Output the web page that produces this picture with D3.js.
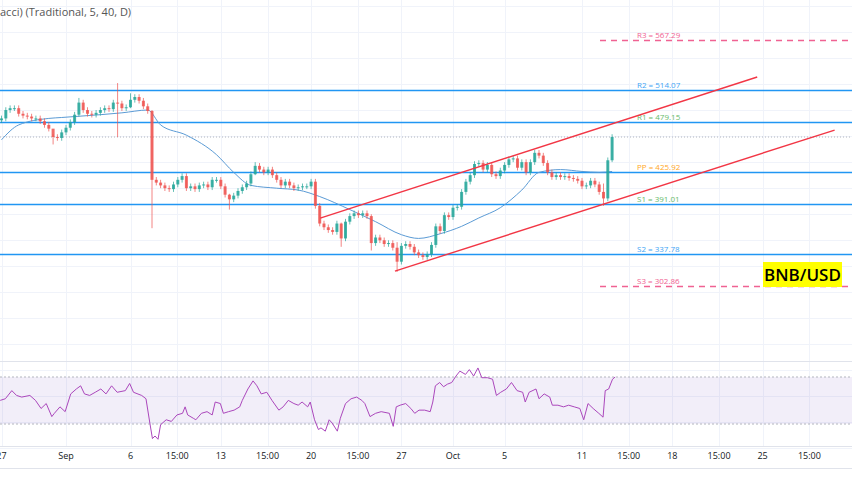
<!DOCTYPE html>
<html>
<head>
<meta charset="utf-8">
<script src="https://cdn.jsdelivr.net/npm/d3@7"></script>
<style>
  body { margin: 0; background: #fff; }
  svg { display: block; font-family: "Open Sans", "DejaVu Sans", sans-serif; }
</style>
</head>
<body>
<div id="chart"></div>
<script>
// global constants
const WIDTH = 852;
const HEIGHT = 485;
const UP = "#26a69a";
const DOWN = "#ef5350";
const START = Date.UTC(2021, 7, 26, 16); // first 8h candle
const STEP = 8 * 3600 * 1000;

// 8h closes, BNB/USD
const closes = [
  481, 483, 492, 494, 494, 488, 486, 485, 483, 483, 480, 476, 472, 463, 462, 468, 473, 479, 487, 500,
  492, 488, 487, 489, 492, 494, 493, 500, 499, 494, 495, 503, 506, 502, 496, 491, 417, 414, 411, 408,
  407, 412, 417, 421, 408, 410, 407, 411, 412, 409, 417, 417, 410, 401, 396, 400, 405, 409, 413, 423,
  432, 428, 425, 428, 422, 417, 411, 415, 411, 408, 409, 410, 410, 415, 389, 370, 366, 363, 361, 370,
  354, 372, 378, 381, 379, 381, 378, 349, 355, 352, 348, 349, 344, 329, 346, 348, 345, 339, 336, 334,
  337, 347, 367, 362, 379, 377, 387, 388, 404, 415, 422, 434, 435, 428, 433, 423, 421, 427, 433, 439,
  440, 430, 436, 425, 436, 446, 443, 435, 425, 420, 422, 420, 421, 419, 418, 416, 410, 411, 416, 412,
  404, 397, 438, 463
];
const firstOpen = 478;
const WICK = 3;
// candle index -> [high, low] where the wick is long
const wickOverrides = {
  13: [466, 455], 19: [505, 485], 28: [521, 463], 31: [510, 494], 36: [492, 365],
  54: [402, 385], 60: [436, 422], 80: [371, 345], 87: [380, 341], 93: [350, 318],
  141: [413, 389], 143: [466, 436]
};

// moving average (candle index, value)
const maIdx = [1, 5, 12, 15, 24, 29, 35, 38, 44, 51, 55, 59, 65, 70, 75, 82, 88, 94, 98, 103, 108, 112, 117, 122, 126, 131, 136, 140, 143];
const maVals = [460, 476, 483, 484, 487, 489, 492, 476, 465, 444, 425, 411, 408, 406, 399, 385, 372, 358, 354, 359, 367, 376, 387, 406, 425, 428, 426, 425, 426];

// RSI (candle index, value)
const rsiIdx = [0.7, 1.9, 3.4, 4.5, 5.7, 7.6, 8.9, 10.2, 11.4, 12.7, 13.3, 14.6, 15.8, 17.1, 18.4, 19.4, 20.3, 21.5, 22.8, 24.1,
  25.3, 26.6, 27.9, 29.8, 30.8, 31.7, 33.6, 34.6, 35.5, 36.1, 36.7, 37.4, 38.0, 39.3, 40.5, 41.8, 43.1, 43.7, 44.3, 45.6,
  46.2, 47.5, 48.8, 50.0, 50.7, 51.9, 52.6, 53.8, 55.1, 56.4, 57.0, 58.3, 59.5, 60.4, 61.4, 62.7, 63.9, 65.5, 66.5, 67.7,
  69.0, 70.0, 70.9, 72.2, 72.8, 73.8, 74.7, 75.3, 76.3, 77.2, 77.9, 79.1, 79.8, 81.0, 82.3, 83.6, 84.8, 85.5, 86.7, 88.0,
  89.3, 91.2, 92.1, 92.8, 93.7, 95.0, 96.2, 97.1, 98.1, 99.4, 100.7, 101.3, 101.9, 102.9, 103.8, 104.7, 105.7, 106.7, 107.6, 108.9,
  109.8, 110.8, 111.8, 112.7, 114.0, 115.2, 116.1, 117.1, 118.4, 119.6, 120.9, 122.2, 122.8, 123.7, 125.3, 126.0, 127.2, 128.5, 129.1, 130.4,
  131.7, 132.9, 134.2, 135.5, 136.4, 137.4, 138.6, 139.9, 140.9, 141.4, 142.2, 143.1, 143.7];
const rsiVals = [50.1, 51.5, 58.4, 54.3, 52.9, 54.3, 50.1, 43.2, 47.4, 36.3, 39.1, 44.6, 40.5, 55.6, 59.8, 62.5, 55.6, 54.3, 57.0, 59.8,
  55.6, 62.5, 57.0, 58.4, 64.5, 57.0, 54.3, 51.5, 30.8, 17.6, 19.8, 17.0, 29.4, 33.6, 32.2, 37.7, 39.1, 44.6, 37.7, 34.9,
  33.6, 39.1, 40.5, 37.7, 48.7, 47.4, 39.1, 40.5, 41.8, 44.6, 50.1, 59.8, 66.7, 62.5, 55.6, 57.0, 50.1, 41.8, 44.6, 50.1,
  47.4, 46.0, 48.7, 44.6, 48.7, 33.6, 25.3, 26.7, 23.9, 33.6, 30.8, 23.9, 34.9, 47.4, 51.5, 52.9, 50.1, 47.4, 36.3, 39.1,
  40.5, 39.1, 28.0, 44.6, 46.0, 47.4, 43.2, 39.1, 41.8, 41.8, 40.5, 48.7, 62.5, 65.3, 61.7, 63.9, 65.3, 70.8, 75.0, 72.2,
  76.3, 70.8, 77.7, 69.4, 69.4, 68.1, 54.3, 57.0, 59.8, 65.3, 58.4, 57.0, 48.7, 57.0, 59.8, 51.5, 55.6, 52.9, 46.0, 46.0,
  44.6, 46.0, 44.6, 43.2, 33.6, 47.4, 43.2, 39.1, 35.8, 58.4, 59.8, 68.1, 70.0];

// pivot levels
const pivotNames = ["R3", "R2", "R1", "PP", "S1", "S2", "S3"];
const pivotVals = [567.29, 514.07, 479.15, 425.92, 391.01, 337.78, 302.86];
const pivotColors = ["#f06292", "#42a5f5", "#66bb6a", "#ffa726", "#66bb6a", "#42a5f5", "#f06292"];

// channel lines: [date, price] endpoints
const channelUpper = [["2021-09-20T17:00Z", 375.9], ["2021-10-24T14:00Z", 527.5]];
const channelLower = [["2021-09-26T12:00Z", 318.9], ["2021-10-30T14:00Z", 470.5]];

// x-axis ticks
const tickDates = ["2021-08-27T00:00Z", "2021-09-01T00:00Z", "2021-09-06T00:00Z", "2021-09-09T15:00Z", "2021-09-13T00:00Z",
  "2021-09-16T15:00Z", "2021-09-20T00:00Z", "2021-09-23T15:00Z", "2021-09-27T00:00Z", "2021-10-01T00:00Z", "2021-10-05T00:00Z",
  "2021-10-11T00:00Z", "2021-10-14T15:00Z", "2021-10-18T00:00Z", "2021-10-21T15:00Z", "2021-10-25T00:00Z", "2021-10-28T15:00Z"];
const tickLabels = ["27", "Sep", "6", "15:00", "13", "15:00", "20", "15:00", "27", "Oct", "5", "11", "15:00", "18", "15:00", "25", "15:00"];

const lastPrice = 463;

// scales
const x = d3.scaleUtc()
  .domain([new Date(Date.UTC(2021, 7, 27)), new Date(Date.UTC(2021, 10, 1))])
  .range([1.5, 852.9]);
const y = d3.scaleLinear().domain([302.86, 567.29]).range([286, 40]);
const yRsi = d3.scaleLinear().domain([30, 70]).range([424, 377]);
const xi = (i) => x(new Date(START + i * STEP));

const svg = d3.select("#chart").append("svg")
  .attr("width", WIDTH).attr("height", HEIGHT);

// grid
const grid = svg.append("g").attr("stroke", "#f0f3fa").attr("stroke-width", 1);
tickDates.forEach((d) => {
  const gx = Math.round(x(new Date(d))) + 0.5;
  grid.append("line").attr("x1", gx).attr("x2", gx).attr("y1", 0).attr("y2", 446);
});
d3.range(0, 446, 26).forEach((gy) => {
  grid.append("line").attr("x1", 0).attr("x2", WIDTH).attr("y1", gy + 6.5).attr("y2", gy + 6.5);
});

// separators
svg.append("line").attr("x1", 0).attr("x2", WIDTH).attr("y1", 361.5).attr("y2", 361.5).attr("stroke", "#e0e3eb");
svg.append("line").attr("x1", 0).attr("x2", WIDTH).attr("y1", 446.5).attr("y2", 446.5).attr("stroke", "#e0e3eb");
svg.append("line").attr("x1", 0).attr("x2", WIDTH).attr("y1", 468.5).attr("y2", 468.5).attr("stroke", "#e0e3eb");

// title
svg.append("text").attr("x", 0).attr("y", 16).attr("font-size", 11).attr("fill", "#555")
  .text("acci) (Traditional, 5, 40, D)");

// current price dotted line
svg.append("line").attr("x1", 0).attr("x2", WIDTH)
  .attr("y1", y(lastPrice)).attr("y2", y(lastPrice))
  .attr("stroke", "#b2b5be").attr("stroke-dasharray", "1,2");

// pivot lines
pivotNames.forEach((name, i) => {
  const py = Math.round(y(pivotVals[i])) + 0.5;
  if (name === "R3" || name === "S3") {
    svg.append("line").attr("x1", 600).attr("x2", WIDTH).attr("y1", py).attr("y2", py)
      .attr("stroke", pivotColors[i]).attr("stroke-width", 1.5).attr("stroke-dasharray", "6,5");
  } else {
    svg.append("line").attr("x1", 0).attr("x2", WIDTH).attr("y1", py).attr("y2", py)
      .attr("stroke", "#2196f3").attr("stroke-width", 1.6);
  }
  svg.append("text").attr("x", 637).attr("y", py - 3).attr("font-size", 8)
    .attr("fill", pivotColors[i]).text(`${name} = ${pivotVals[i].toFixed(2)}`);
});

// moving average
svg.append("path")
  .datum(maIdx.map((k, i) => [xi(k), y(maVals[i])]))
  .attr("fill", "none").attr("stroke", "#5b9bd5").attr("stroke-width", 1)
  .attr("d", d3.line().curve(d3.curveMonotoneX));

// candles
const candles = closes.map((c, i) => {
  const o = i === 0 ? firstOpen : closes[i - 1];
  const ov = wickOverrides[i];
  return {
    i, o, c,
    h: ov ? ov[0] : Math.max(o, c) + WICK,
    l: ov ? ov[1] : Math.min(o, c) - WICK,
  };
});
const cg = svg.append("g");
cg.selectAll("line").data(candles).join("line")
  .attr("x1", (d) => xi(d.i)).attr("x2", (d) => xi(d.i))
  .attr("y1", (d) => y(d.h)).attr("y2", (d) => y(d.l))
  .attr("stroke", (d) => (d.c >= d.o ? UP : DOWN)).attr("stroke-width", 1).attr("opacity", 0.7);
cg.selectAll("rect").data(candles).join("rect")
  .attr("x", (d) => xi(d.i) - 1.5).attr("width", 3)
  .attr("y", (d) => y(Math.max(d.o, d.c)))
  .attr("height", (d) => Math.max(1, Math.abs(y(d.o) - y(d.c))))
  .attr("fill", (d) => (d.c >= d.o ? UP : DOWN)).attr("opacity", 0.85);

// channel
[channelUpper, channelLower].forEach((seg) => {
  svg.append("line")
    .attr("x1", x(new Date(seg[0][0]))).attr("y1", y(seg[0][1]))
    .attr("x2", x(new Date(seg[1][0]))).attr("y2", y(seg[1][1]))
    .attr("stroke", "#f23645").attr("stroke-width", 1.4);
});

// BNB/USD label
svg.append("rect").attr("x", 763).attr("y", 262).attr("width", 79).attr("height", 25).attr("fill", "#ffff00");
svg.append("text").attr("x", 802.5).attr("y", 281).attr("text-anchor", "middle")
  .attr("font-size", 17).attr("font-weight", 600).attr("fill", "#000").text("BNB/USD");

// RSI panel
svg.append("rect").attr("x", 0).attr("y", yRsi(70)).attr("width", WIDTH)
  .attr("height", yRsi(30) - yRsi(70)).attr("fill", "#7e57c2").attr("opacity", 0.1);
[70, 30].forEach((v) => {
  svg.append("line").attr("x1", 0).attr("x2", WIDTH).attr("y1", yRsi(v)).attr("y2", yRsi(v))
    .attr("stroke", "#b2b5be").attr("stroke-dasharray", "2,2");
});
svg.append("path")
  .datum(rsiIdx.map((k, i) => [xi(k), yRsi(rsiVals[i])]))
  .attr("fill", "none").attr("stroke", "#ab47bc").attr("stroke-width", 1)
  .attr("d", d3.line());

// x-axis labels
svg.append("g").selectAll("text").data(tickDates).join("text")
  .attr("x", (d) => x(new Date(d))).attr("y", 459)
  .attr("text-anchor", "middle").attr("font-size", 9).attr("fill", "#131722")
  .text((d, i) => tickLabels[i]);
</script>
</body>
</html>
